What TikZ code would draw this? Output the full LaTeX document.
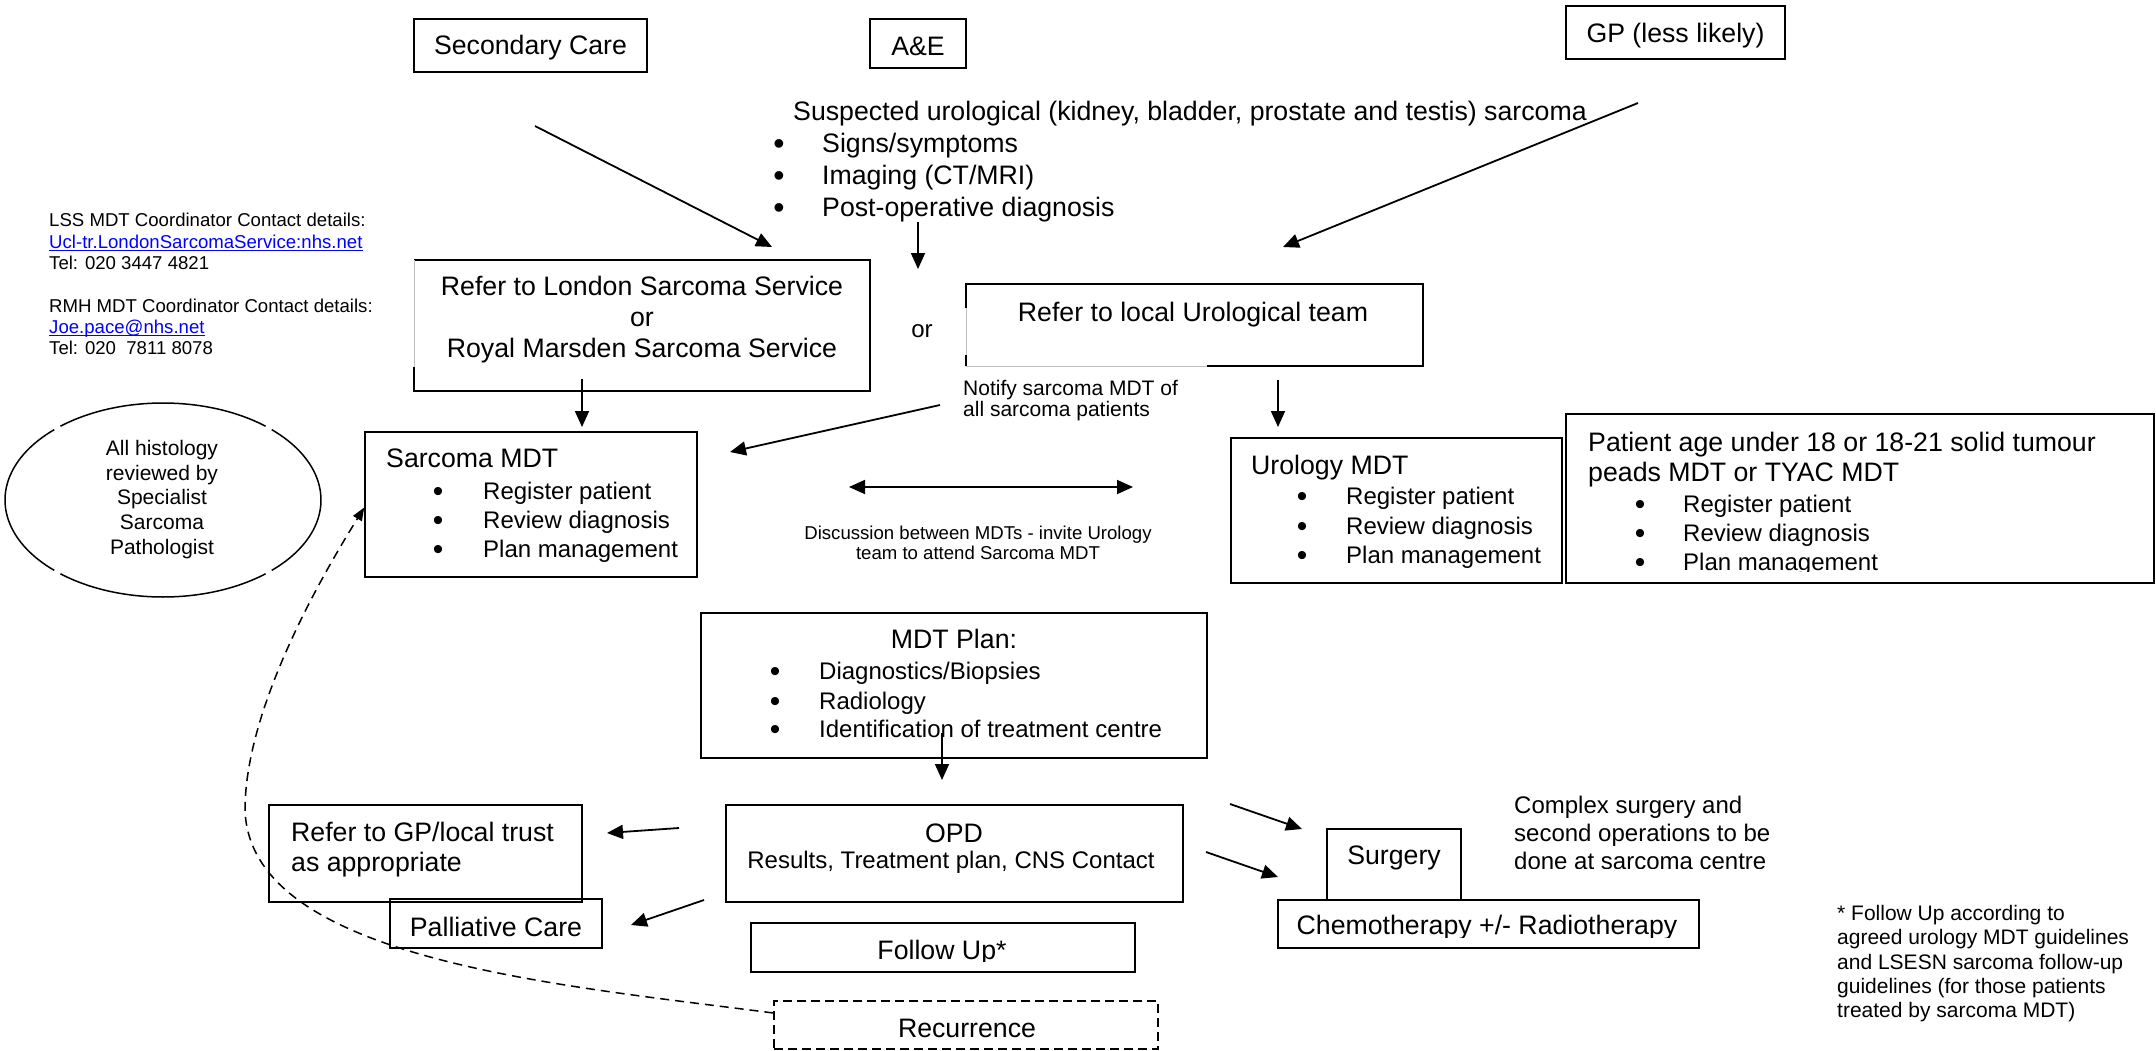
\documentclass[tikz,border=0pt]{standalone}
\usepackage{fontspec}
\setmainfont{Liberation Sans}
\usetikzlibrary{arrows.meta,shapes.geometric}
\newcommand{\fBig}{\fontsize{26.7}{31}\selectfont}
\newcommand{\fMid}{\fontsize{24}{27.5}\selectfont}
\newcommand{\fNote}{\fontsize{21}{24}\selectfont}
\newcommand{\fNotify}{\fontsize{21}{22}\selectfont}
\newcommand{\fSmall}{\fontsize{18.6}{21.5}\selectfont}
\newcommand{\fDisc}{\fontsize{18.6}{20}\selectfont}
\newcommand{\fBulA}{\fontsize{30}{30}\selectfont}
\newcommand{\fBulB}{\fontsize{32}{32}\selectfont}
\definecolor{linkblue}{RGB}{0,0,255}
\begin{document}
\begin{tikzpicture}[x=1pt,y=-1pt,
  box/.style={draw, line width=1.5pt, inner sep=0},
  dbox/.style={draw, line width=1.4pt, inner sep=0, dash pattern=on 9pt off 5pt},
  hidden/.style={inner sep=0},
  lt/.style={inner sep=0, anchor=base west},
  ct/.style={inner sep=0, anchor=base},
  bula/.style={inner sep=0, anchor=base, font=\fBulA, yshift=-2pt},
  bulb/.style={inner sep=0, anchor=base, font=\fBulB, yshift=-2pt},
  bline/.style={line width=1.5pt},
  faint/.style={line width=0.6pt, black!25},
  arr/.style={line width=1.8pt, -{Triangle[length=16pt,width=14pt]}},
  darr/.style={line width=1.8pt, {Triangle[length=16pt,width=14pt]}-{Triangle[length=16pt,width=14pt]}},
  curvearr/.style={line width=1.5pt, dash pattern=on 9pt off 6pt, -{Triangle[length=13pt,width=10pt]}},
]
\useasboundingbox (0,0) rectangle (2156,1050);

% ---------------- boxes ----------------
\node[box, minimum width=233pt, minimum height=53pt] (sec) at (530.5,45.5) {};
\node[box, minimum width=96pt, minimum height=49pt] (ae) at (918,43.5) {};
\node[box, minimum width=219pt, minimum height=53pt] (gp) at (1675.5,32.5) {};
\node[hidden, minimum width=456pt, minimum height=131pt] (london) at (642,325.5) {};
\node[hidden, minimum width=457pt, minimum height=82pt] (local) at (1194.5,325) {};
\node[box, minimum width=332pt, minimum height=145pt] (smdt) at (531,504.5) {};
\node[box, minimum width=331pt, minimum height=145pt] (umdt) at (1396.5,510.5) {};
\node[box, minimum width=588pt, minimum height=169pt] (age) at (1860,498.5) {};
\node[box, minimum width=506pt, minimum height=145pt] (plan) at (954,685.5) {};
\node[box, minimum width=457pt, minimum height=97pt] (opd) at (954.5,853.5) {};
\node[box, minimum width=313pt, minimum height=97pt] (gpref) at (425.5,853.5) {};
\node[box, minimum width=212pt, minimum height=49pt] (pall) at (496,923.5) {};
\node[box, minimum width=384pt, minimum height=49pt] (fu) at (943,947.5) {};
\node[dbox, minimum width=384pt, minimum height=48pt] (rec) at (966,1025) {};
\node[box, minimum width=134pt, minimum height=71pt] (surg) at (1394,864.5) {};
\node[box, minimum width=421pt, minimum height=48pt] (chemo) at (1488.5,924) {};
\node[hidden, ellipse, minimum width=317pt, minimum height=194pt] (ell) at (163,500) {};

% London box edges (left edge partly hidden)
\draw[bline] ([yshift=24pt]london.south west) -- (london.south west) -- (london.south east) -- (london.north east) -- (london.north west);
\draw[faint] ([yshift=24pt]london.south west) -- (london.north west);
% Local urological box edges
\draw[bline] ([xshift=-216pt]local.south east) -- (local.south east) -- (local.north east) -- (local.north west) -- ([yshift=-24pt]local.north west);
\draw[bline] ([yshift=11pt]local.south west) -- (local.south west);
\draw[faint] ([yshift=-24pt]local.north west) -- ([yshift=11pt]local.south west);
\draw[faint] (local.south west) -- ([xshift=-216pt]local.south east);

% ellipse with small breaks
\foreach \a/\b in {49.5/130.5, 133.5/226.5, 229.5/310.5, 313.5/406.5}
  \draw[line width=1.5pt] (ell.center) ++(\a:158pt and 97pt) arc[start angle=\a, end angle=\b, x radius=158pt, y radius=97pt];

% ---------------- texts ----------------
\node[ct, font=\fBig] (tsec) at (530.5,54) {Secondary Care};
\node[ct, font=\fBig] (tae) at (918,55) {A\&E};
\node[ct, font=\fBig] (tgp) at (1675.5,42) {GP (less likely)};

\node[lt, font=\fBig] (sus) at (793,120) {Suspected urological (kidney, bladder, prostate and testis) sarcoma};
\node[bulb] (sb1) at (779,152) {•};
\node[bulb] (sb2) at (779,184) {•};
\node[bulb] (sb3) at (779,216) {•};
\node[lt, font=\fBig] (st1) at (822,152) {Signs/symptoms};
\node[lt, font=\fBig] (st2) at (822,184) {Imaging (CT/MRI)};
\node[lt, font=\fBig] (st3) at (822,216) {Post-operative diagnosis};

\node[lt, font=\fSmall] (lss1) at (49,226) {LSS MDT Coordinator Contact details:};
\node[lt, font=\fSmall, text=linkblue] (lss2) at (49,248) {Ucl-tr.LondonSarcomaService:nhs.net};
\draw[linkblue, line width=1.3pt] ([yshift=-2.5pt]lss2.base west) -- ([yshift=-2.5pt]lss2.base east);
\node[lt, font=\fSmall] (lss3) at (49,269) {Tel: 020 3447 4821};
\node[lt, font=\fSmall] (rmh1) at (49,312) {RMH MDT Coordinator Contact details:};
\node[lt, font=\fSmall, text=linkblue] (rmh2) at (49,333) {Joe.pace@nhs.net};
\draw[linkblue, line width=1.3pt] ([yshift=-2.5pt]rmh2.base west) -- ([yshift=-2.5pt]rmh2.base east);
\node[lt, font=\fSmall] (rmh3) at (49,354) {Tel: 020\ \ 7811 8078};

\node[ct, font=\fBig] (tl1) at (642,295.5) {Refer to London Sarcoma Service};
\node[ct, font=\fBig] (tl2) at (642,326.5) {or};
\node[ct, font=\fBig] (tl3) at (642,357) {Royal Marsden Sarcoma Service};
\node[ct, font=\fMid] (tor) at (922,337) {or};
\node[ct, font=\fBig] (tlocal) at (1193,321) {Refer to local Urological team};

\node[lt, font=\fNotify] (nt1) at (963,395) {Notify sarcoma MDT of};
\node[lt, font=\fNotify] (nt2) at (963,416) {all sarcoma patients};

\node[ct, font=\fNote] (e1) at (162,455) {All histology};
\node[ct, font=\fNote] (e2) at (162,480) {reviewed by};
\node[ct, font=\fNote] (e3) at (162,504) {Specialist};
\node[ct, font=\fNote] (e4) at (162,529) {Sarcoma};
\node[ct, font=\fNote] (e5) at (162,554) {Pathologist};

\node[lt, font=\fBig] (sm0) at (386,467) {Sarcoma MDT};
\node[bula] (smb1) at (438,499) {•};
\node[bula] (smb2) at (438,528) {•};
\node[bula] (smb3) at (438,557) {•};
\node[lt, font=\fMid] (sm1) at (483,499) {Register patient};
\node[lt, font=\fMid] (sm2) at (483,528) {Review diagnosis};
\node[lt, font=\fMid] (sm3) at (483,557) {Plan management};

\node[ct, font=\fDisc] (d1) at (978,539) {Discussion between MDTs - invite Urology};
\node[ct, font=\fDisc] (d2) at (978,559) {team to attend Sarcoma MDT};

\node[lt, font=\fBig] (um0) at (1251,474) {Urology MDT};
\node[bula] (umb1) at (1302,504) {•};
\node[bula] (umb2) at (1302,534) {•};
\node[bula] (umb3) at (1302,563) {•};
\node[lt, font=\fMid] (um1) at (1346,504) {Register patient};
\node[lt, font=\fMid] (um2) at (1346,534) {Review diagnosis};
\node[lt, font=\fMid] (um3) at (1346,563) {Plan management};

\node[lt, font=\fBig] (ag0) at (1588,451) {Patient age under 18 or 18-21 solid tumour};
\node[lt, font=\fBig] (ag1) at (1588,481) {peads MDT or TYAC MDT};
\node[bula] (agb1) at (1640,512) {•};
\node[bula] (agb2) at (1640,541) {•};
\node[bula] (agb3) at (1640,570) {•};
\node[lt, font=\fMid] (ag2) at (1683,512) {Register patient};
\node[lt, font=\fMid] (ag3) at (1683,541) {Review diagnosis};
\begin{scope}
  \clip (1670,545) rectangle (2000,571);
  \node[lt, font=\fMid] (ag4) at (1683,570) {Plan management};
\end{scope}

\node[ct, font=\fBig] (pl0) at (954,648.5) {MDT Plan:};
\node[bula] (plb1) at (775,679) {•};
\node[bula] (plb2) at (775,709) {•};
\node[bula] (plb3) at (775,737.5) {•};
\node[lt, font=\fMid] (pl1) at (819,679) {Diagnostics/Biopsies};
\node[lt, font=\fMid] (pl2) at (819,709) {Radiology};
\node[lt, font=\fMid] (pl3) at (819,737.5) {Identification of treatment centre};

\node[ct, font=\fBig] (op0) at (954,842) {OPD};
\node[ct, font=\fMid] (op1) at (951,868.5) {Results, Treatment plan, CNS Contact};

\node[lt, font=\fBig] (gr1) at (291,841.5) {Refer to GP/local trust};
\node[lt, font=\fBig] (gr2) at (291,871) {as appropriate};
\node[ct, font=\fBig] (tpall) at (496,936) {Palliative Care};
\begin{scope}
  \clip (760,925) rectangle (1130,961);
  \node[ct, font=\fBig] (tfu) at (942,959) {Follow Up*};
\end{scope}
\node[ct, font=\fBig] (trec) at (967,1037) {Recurrence};
\node[ct, font=\fBig] (tsurg) at (1394,864) {Surgery};
\begin{scope}
  \clip (1285,902) rectangle (1695,937);
  \node[ct, font=\fBig] (tchemo) at (1487,934) {Chemotherapy +/- Radiotherapy};
\end{scope}

\node[lt, font=\fMid] (cx1) at (1514,813) {Complex surgery and};
\node[lt, font=\fMid] (cx2) at (1514,841) {second operations to be};
\begin{scope}
  \clip (1500,846) rectangle (1850,868);
  \node[lt, font=\fMid] (cx3) at (1514,869) {done at sarcoma centre};
\end{scope}

\node[lt, font=\fNote] (fn1) at (1837,920) {* Follow Up according to};
\node[lt, font=\fNote] (fn2) at (1837,944) {agreed urology MDT guidelines};
\node[lt, font=\fNote] (fn3) at (1837,969) {and LSESN sarcoma follow-up};
\node[lt, font=\fNote] (fn4) at (1837,993) {guidelines (for those patients};
\node[lt, font=\fNote] (fn5) at (1837,1017) {treated by sarcoma MDT)};

% ---------------- connectors ----------------
\coordinate (c1s) at (535,126);  \coordinate (c1e) at (772,247);
\coordinate (c2s) at (1638,103); \coordinate (c2e) at (1283,247);
\coordinate (c3s) at (918,222);  \coordinate (c3e) at (918,269);
\coordinate (c4s) at (582,379);  \coordinate (c4e) at (582,427);
\coordinate (c5s) at (1278,380); \coordinate (c5e) at (1278,427);
\coordinate (c6s) at (940,405);  \coordinate (c6e) at (730,452);
\coordinate (c7s) at (849,487);  \coordinate (c7e) at (1133,487);
\coordinate (c8s) at (942,733);  \coordinate (c8e) at (942,780);
\coordinate (c9s) at (679,828);  \coordinate (c9e) at (607,833);
\coordinate (c10s) at (704,900); \coordinate (c10e) at (631,925);
\coordinate (c11s) at (1230,804); \coordinate (c11e) at (1302,829);
\coordinate (c12s) at (1206,852); \coordinate (c12e) at (1278,877);
\coordinate (cv) at (245,810);

\draw[arr] (c1s) -- (c1e);
\draw[arr] (c2s) -- (c2e);
\draw[arr] (c3s) -- (c3e);
\draw[arr] (c4s) -- (c4e);
\draw[arr] (c5s) -- (c5e);
\draw[arr] (c6s) -- (c6e);
\draw[darr] (c7s) -- (c7e);
\draw[arr] (c8s) -- (c8e);
\draw[arr] (c9s) -- (c9e);
\draw[arr] (c10s) -- (c10e);
\draw[arr] (c11s) -- (c11e);
\draw[arr] (c12s) -- (c12e);

\draw[curvearr] ([yshift=12pt]rec.west) .. controls (560,985) and (250,960) .. (cv) .. controls (245,700) and (335,555) .. ([yshift=-3pt]smdt.west);
\end{tikzpicture}
\end{document}
